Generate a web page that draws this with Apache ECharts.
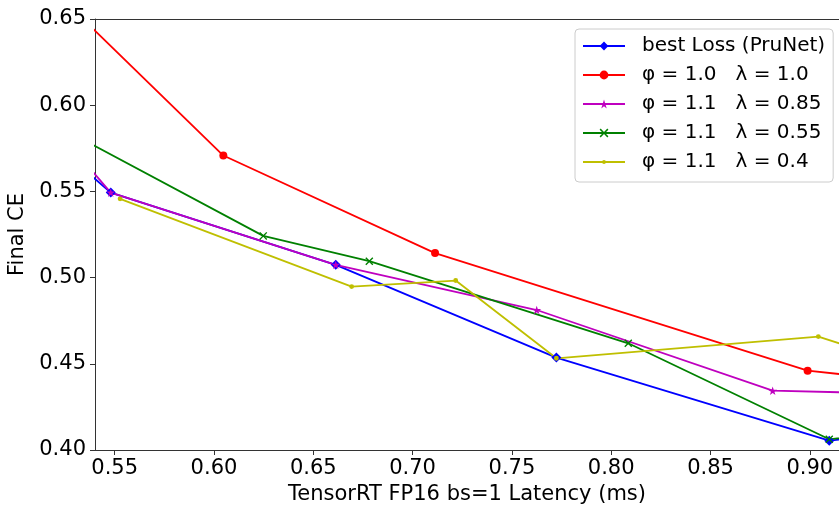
<!DOCTYPE html>
<html>
<head>
<meta charset="utf-8">
<script src="https://cdn.jsdelivr.net/npm/echarts@6/dist/echarts.min.js"></script>
<style>
html,body{margin:0;padding:0;background:#fff;}
#chart{width:839px;height:506px;}
</style>
</head>
<body>
<div id="chart"></div>
<script>
// ---- data ----
const seriesNames = ['best Loss (PruNet)', 'φ = 1.0   λ = 1.0', 'φ = 1.1   λ = 0.85', 'φ = 1.1   λ = 0.55', 'φ = 1.1   λ = 0.4'];
const bestX = [0.530, 0.548, 0.6613, 0.7724, 0.9098, 0.930];
const bestY = [0.5674, 0.5493, 0.5074, 0.4536, 0.4054, 0.408];
const p10l10X = [0.530, 0.6047, 0.7113, 0.8989, 0.930];
const p10l10Y = [0.6545, 0.5708, 0.5142, 0.4460, 0.4422];
const p11l085X = [0.530, 0.548, 0.6613, 0.7625, 0.8813, 0.930];
const p11l085Y = [0.5734, 0.5493, 0.5074, 0.4812, 0.4344, 0.4331];
const p11l055X = [0.530, 0.6248, 0.6782, 0.8086, 0.9098, 0.930];
const p11l055Y = [0.5825, 0.5242, 0.5095, 0.4619, 0.4062, 0.409];
const p11l04X = [0.5527, 0.6693, 0.7217, 0.7724, 0.9043, 0.930];
const p11l04Y = [0.5457, 0.4948, 0.4983, 0.4532, 0.4658, 0.4563];
const xTicks = [0.55, 0.60, 0.65, 0.70, 0.75, 0.80, 0.85, 0.90];
const xMin = 0.54008, xMax = 0.9147;
const yMin = 0.40, yMax = 0.65, yStep = 0.05;

const FONT = 'DejaVu Sans';
const starPath = 'path://M100,0 L122.34,69.26 L195.11,69.1 L136.14,111.74 L158.78,180.9 L100,138 L41.22,180.9 L63.86,111.74 L4.89,69.1 L77.66,69.26 Z';
const xPath = 'path://M0,12 L12,0 L50,38 L88,0 L100,12 L62,50 L100,88 L88,100 L50,62 L12,100 L0,88 L38,50 Z';
// small dot inside a larger (invisible) box, like matplotlib's '.' marker
const dotPath = 'path://M0,0 L0.01,0 Z M100,100 L99.99,100 Z M50,28 A22,22 0 1,1 50,72 A22,22 0 1,1 50,28 Z';

function zip(xs, ys){ return xs.map((x,i)=>[x, ys[i]]); }

function mk(name, xs, ys, color, symbol, size){
  return {
    name: name, type: 'line', data: zip(xs, ys),
    symbol: symbol, symbolSize: size, symbolKeepAspect: true,
    showAllSymbol: true, clip: true,
    lineStyle: {color: color, width: 1.8},
    itemStyle: {color: color, borderWidth: 0},
    emphasis: {disabled: true},
    animation: false
  };
}

const chart = echarts.init(document.getElementById('chart'), null, {renderer: 'canvas'});
chart.setOption({
  animation: false,
  backgroundColor: '#fff',
  grid: {left: 95, right: 0, top: 19, bottom: 56, containLabel: false, outerBoundsMode: 'none'},
  legend: {
    left: 575, top: 29, orient: 'vertical',
    itemWidth: 42, itemHeight: 11, itemGap: 9,
    padding: [7, 8, 10, 7],
    backgroundColor: 'rgba(255,255,255,0.85)',
    borderColor: '#cccccc', borderWidth: 1, borderRadius: 4,
    textStyle: {fontFamily: FONT, fontSize: 20, color: '#000', lineHeight: 20, padding: [0,0,0,12]},
    data: seriesNames
  },
  xAxis: [{
    type: 'value', min: xMin, max: xMax,
    name: 'TensorRT FP16 bs=1 Latency (ms)', nameLocation: 'middle', nameGap: 33,
    nameTextStyle: {fontFamily: FONT, fontSize: 21, color: '#000'},
    axisLine: {show: true, lineStyle: {color: '#333', width: 1}},
    axisTick: {show: true, length: 5, customValues: xTicks, lineStyle: {color: '#333', width: 1}},
    axisLabel: {show: true, margin: 8, customValues: xTicks, fontFamily: FONT, fontSize: 21, color: '#000',
      formatter: v => Number(v).toFixed(2)},
    splitLine: {show: false}
  }, {
    type: 'value', position: 'top', min: xMin, max: xMax,
    axisLine: {show: true, onZero: false, lineStyle: {color: '#333', width: 1}},
    axisTick: {show: false}, axisLabel: {show: false}, splitLine: {show: false}
  }],
  yAxis: {
    type: 'value', min: yMin, max: yMax, interval: yStep,
    name: 'Final CE', nameLocation: 'middle', nameGap: 58,
    nameTextStyle: {fontFamily: FONT, fontSize: 21, color: '#000'},
    axisLine: {show: true, onZero: false, lineStyle: {color: '#333', width: 1}},
    axisTick: {show: true, length: 5, lineStyle: {color: '#333', width: 1}},
    axisLabel: {margin: 9, fontFamily: FONT, fontSize: 21, color: '#000',
      formatter: v => Number(v).toFixed(2)},
    splitLine: {show: false}
  },
  series: [
    mk(seriesNames[0], bestX, bestY, '#0000ff', 'diamond', 10),
    mk(seriesNames[1], p10l10X, p10l10Y, '#ff0000', 'circle', 8),
    mk(seriesNames[2], p11l085X, p11l085Y, '#bf00bf', starPath, 9),
    mk(seriesNames[3], p11l055X, p11l055Y, '#008000', xPath, 8),
    mk(seriesNames[4], p11l04X, p11l04Y, '#bfbf00', dotPath, 11)
  ]
});
</script>
</body>
</html>
